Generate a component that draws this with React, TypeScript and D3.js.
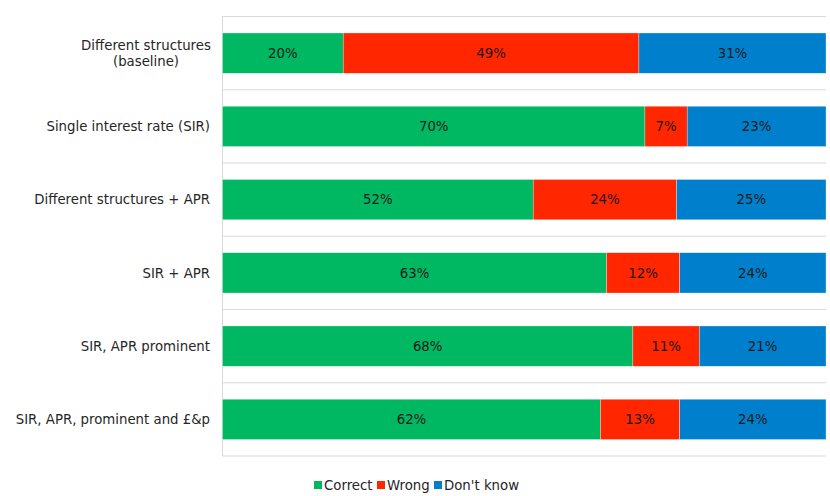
import React from "react";
import * as d3 from "d3";

const categories = [
  "Different structures\n(baseline)",
  "Single interest rate (SIR)",
  "Different structures + APR",
  "SIR + APR",
  "SIR, APR prominent",
  "SIR, APR, prominent and £&p",
];
const seriesNames = ["Correct", "Wrong", "Don't know"];
const correct = [20, 70, 52, 63, 68, 62];
const wrong = [49, 7, 24, 12, 11, 13];
const dontKnow = [31, 23, 25, 24, 21, 24];
const colors = ["#00B862", "#FF2600", "#0080CC"];

const W = 830;
const H = 496;
const M = { left: 222.5, right: 4, top: 16.5, bottom: 40 };
const FONT = "'DejaVu Sans', Verdana, sans-serif";
const FS = 13.3;

export default function App() {
  const rows = categories.map((c, i) => ({
    cat: c,
    Correct: correct[i],
    Wrong: wrong[i],
    "Don't know": dontKnow[i],
  }));
  const stack = d3
    .stack<any>()
    .keys(seriesNames)
    .offset(d3.stackOffsetExpand);
  const series = stack(rows);

  const x = d3.scaleLinear().domain([0, 1]).range([M.left, W - M.right]);
  const y = d3
    .scaleBand<string>()
    .domain(categories)
    .range([M.top, H - M.bottom])
    .paddingInner(0.45)
    .paddingOuter(0.225);
  const step = y.step();
  const gridYs = categories.map((c) => (y(c) as number) - (step * 0.45) / 2);
  gridYs.push(H - M.bottom);

  const legendItems = [
    { name: "Correct", x: 314 },
    { name: "Wrong", x: 377 },
    { name: "Don't know", x: 434 },
  ];

  return (
    <svg
      width={W}
      height={H}
      style={{ position: "absolute", left: 0, top: 0, background: "#fff" }}
      fontFamily={FONT}
    >
      {gridYs.map((gy, i) => (
        <line
          key={i}
          x1={M.left}
          x2={W - M.right}
          y1={gy}
          y2={gy}
          stroke="#d9d9d9"
          strokeWidth={1}
        />
      ))}
      <line
        x1={M.left}
        x2={M.left}
        y1={M.top}
        y2={H - M.bottom}
        stroke="#d9d9d9"
      />
      {series.map((s, si) => (
        <g key={s.key}>
          {s.map((d, i) => {
            const x0 = x(d[0]);
            const x1 = x(d[1]);
            const by = y(categories[i]) as number;
            const raw = (rows[i] as any)[s.key] as number;
            return (
              <g key={i}>
                <rect
                  x={x0}
                  y={by}
                  width={x1 - x0}
                  height={y.bandwidth()}
                  fill={colors[si]}
                  stroke="#ffffff"
                  strokeOpacity={0.6}
                  strokeWidth={0.5}
                />
                <text
                  x={(x0 + x1) / 2}
                  y={by + y.bandwidth() / 2}
                  dy="0.35em"
                  textAnchor="middle"
                  fontSize={FS}
                  fill="#1a1a1a"
                >
                  {raw}%
                </text>
              </g>
            );
          })}
        </g>
      ))}
      {categories.map((c) => {
        const lines = c.split("\n");
        const cy = (y(c) as number) + y.bandwidth() / 2;
        const lh = 16;
        if (lines.length === 1) {
          return (
            <text
              key={c}
              x={210}
              y={cy}
              dy="0.35em"
              textAnchor="end"
              fontSize={FS}
              fill="#262626"
            >
              {c}
            </text>
          );
        }
        return (
          <text
            key={c}
            x={146}
            textAnchor="middle"
            fontSize={FS}
            fill="#262626"
          >
            {lines.map((l, li) => (
              <tspan
                key={li}
                x={146}
                y={cy + (li - (lines.length - 1) / 2) * lh}
                dy="0.35em"
              >
                {l}
              </tspan>
            ))}
          </text>
        );
      })}
      {legendItems.map((it, i) => (
        <g key={it.name}>
          <rect x={it.x} y={481} width={8} height={8} fill={colors[i]} />
          <text x={it.x + 10} y={485} dy="0.35em" fontSize={FS} fill="#262626">
            {it.name}
          </text>
        </g>
      ))}
    </svg>
  );
}
